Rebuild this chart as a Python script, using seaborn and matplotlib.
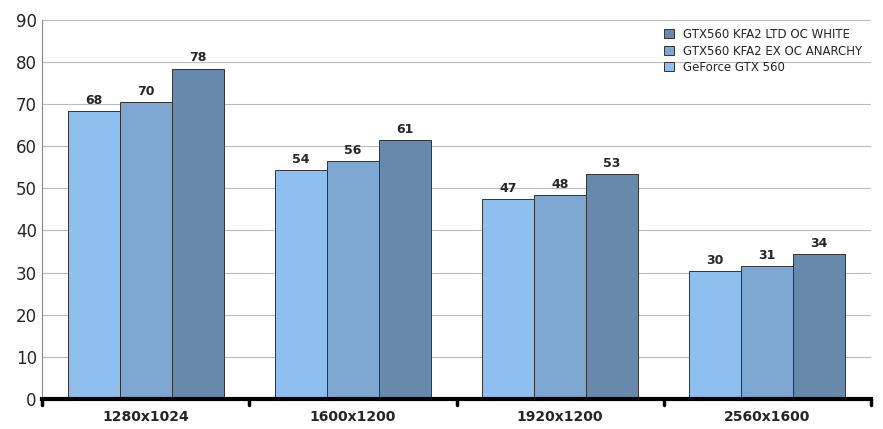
import matplotlib
matplotlib.use("Agg")
import matplotlib.pyplot as plt
import seaborn as sns
import pandas as pd
import numpy as np

categories = ["1280x1024", "1600x1200", "1920x1200", "2560x1600"]
series = ["GeForce GTX 560", "GTX560 KFA2 EX OC ANARCHY", "GTX560 KFA2 LTD OC WHITE"]
geforce = [68.4, 54.4, 47.5, 30.4]
anarchy = [70.4, 56.4, 48.4, 31.5]
white = [78.4, 61.4, 53.4, 34.4]
colors = ["#7fbfff", "#6fa6de", "#5b89b8"]

rows = []
for s, vals in zip(series, [geforce, anarchy, white]):
    for c, v in zip(categories, vals):
        rows.append({"res": c, "series": s, "fps": v})
df = pd.DataFrame(rows)

sns.set_style("white")
fig = plt.figure(figsize=(8.83, 4.29), dpi=100)
ax = fig.add_axes([0.048, 0.07, 0.938, 0.884])
sns.barplot(data=df, x="res", y="fps", hue="series", palette=colors,
            width=0.75, edgecolor="#333333", linewidth=0.7, ax=ax, legend=True)

for cont in ax.containers:
    labels = [str(int(b.get_height())) for b in cont]
    ax.bar_label(cont, labels=labels, padding=3, fontsize=9, fontweight="bold")

ax.set_ylim(0, 90)
ax.set_xlim(-0.5, 3.5)
ax.set_yticks(range(0, 91, 10))
ax.tick_params(axis="y", labelsize=12, length=0, pad=4)
ax.tick_params(axis="x", labelsize=10, length=0, pad=8)
for l in ax.get_xticklabels():
    l.set_fontweight("bold")
ax.grid(axis="y", color="#bbbbbb", linewidth=0.8)
ax.set_axisbelow(True)
ax.set_xlabel("")
ax.set_ylabel("")
for s in ["top", "right"]:
    ax.spines[s].set_visible(False)
ax.spines["left"].set_color("#888888")
ax.spines["bottom"].set_linewidth(3)
ax.spines["bottom"].set_color("black")
for xb in [-0.5, 0.5, 1.5, 2.5, 3.5]:
    ax.plot([xb, xb], [0, -1.5], color="black", lw=2.5, clip_on=False)

h, lab = ax.get_legend_handles_labels()
ax.legend(h[::-1], lab[::-1], loc="upper right", frameon=False, fontsize=8.5,
          handlelength=0.8, handleheight=0.8, borderaxespad=0.3, labelspacing=0.3)

fig.savefig("out.png", dpi=100)
